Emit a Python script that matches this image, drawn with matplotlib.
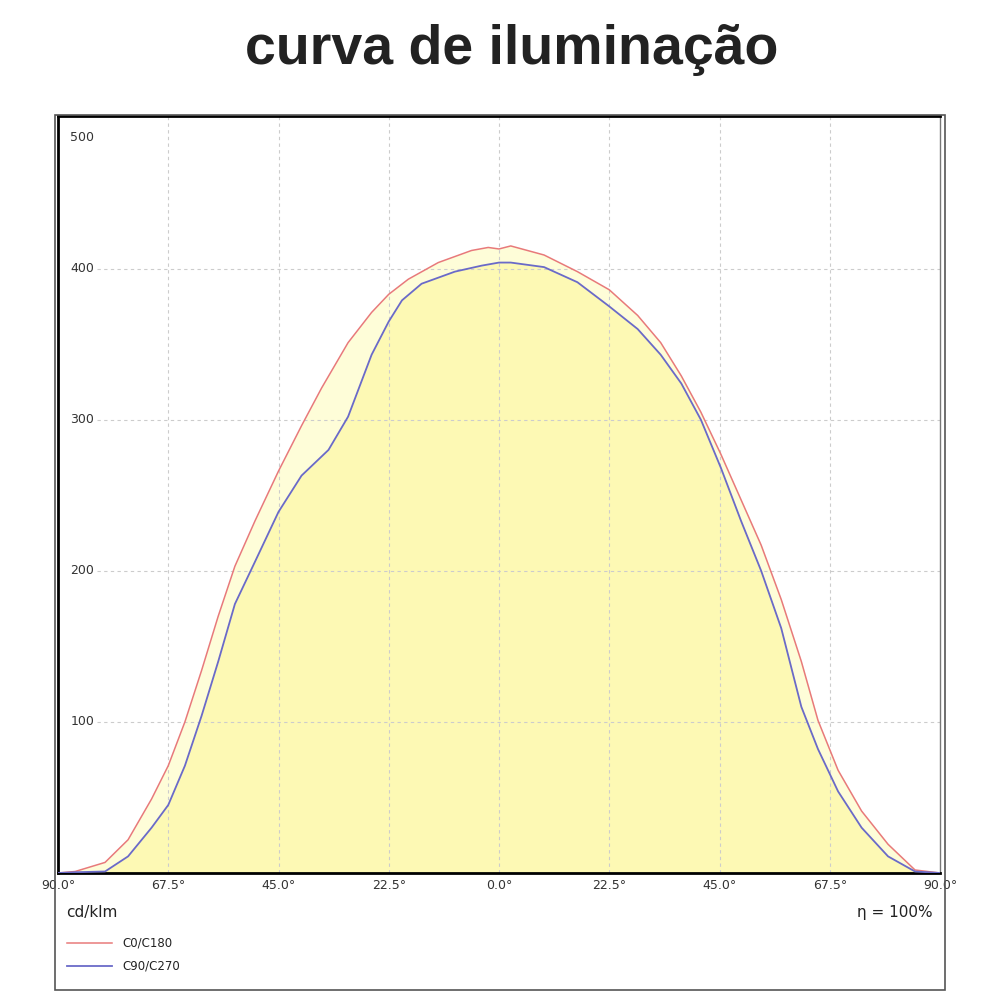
import matplotlib.pyplot as plt
import numpy as np
from matplotlib.patches import Rectangle

# angle (deg, negative = left side) and intensity (cd/klm)
red_ang = [-90, -86.5, -80.4, -75.7, -70.9, -67.5, -64.1, -60.7, -57.3, -53.9, -49.8, -45, -40.3, -36.2,
           -30.8, -26, -22.5, -18.5, -12.4, -5.6, -2.2, 0, 2.4, 9.2, 16, 22.5, 28.3, 33, 37.2, 41.2,
           45.3, 49.4, 53.5, 57.6, 61.7, 65.1, 69.2, 74, 79.4, 84.9, 90]
red_val = [0, 1, 7, 22, 49, 71, 100, 134, 170, 203, 233, 266, 296, 321,
           351, 371, 383, 393, 404, 412, 414, 413, 415, 409, 398, 386, 369, 351, 329, 305,
           277, 247, 217, 181, 140, 101, 68, 41, 19, 2, 0]
blue_ang = [-90, -86.5, -80.4, -75.7, -70.9, -67.5, -64.1, -60.7, -57.3, -53.9, -49.8, -45, -40.3, -34.8,
            -30.8, -26, -22.5, -19.8, -15.8, -9, -3.5, 0, 2.4, 9.2, 16, 22.5, 28.3, 33, 37.2, 41.2,
            45.3, 49.4, 53.5, 57.6, 61.7, 65.1, 69.2, 74, 79.4, 84.9, 90]
blue_val = [0, 0.5, 1, 11, 30, 45, 71, 104, 140, 178, 206, 239, 263, 280,
            302, 343, 365, 379, 390, 398, 402, 404, 404, 401, 391, 375, 360, 343, 324, 300,
            268, 233, 200, 162, 110, 82, 54, 30, 11, 1, 0]
x_ticks = [-90, -67.5, -45, -22.5, 0, 22.5, 45, 67.5, 90]
x_labels = ["90.0°", "67.5°", "45.0°", "22.5°", "0.0°", "22.5°", "45.0°", "67.5°", "90.0°"]
y_ticks = [100, 200, 300, 400]

RED = "#e87a7a"
BLUE = "#6a6ac8"

plt.rcParams["font.family"] = ["DejaVu Sans"]
fig = plt.figure(figsize=(10, 10), dpi=100)
fig.patches.append(Rectangle((0.055, 0.010), 0.890, 0.875, transform=fig.transFigure,
                             fill=False, edgecolor="#555555", linewidth=1.2))
fig.text(0.512, 0.950, "curva de iluminação", ha="center", va="center",
         fontsize=40, fontweight="bold", family="Liberation Sans", color="#222222")

ax = fig.add_axes([0.058, 0.127, 0.882, 0.757])
grid = np.linspace(-90, 90, 721)
r = np.interp(grid, red_ang, red_val)
b = np.interp(grid, blue_ang, blue_val)
ax.fill_between(grid, 0, np.maximum(r, b), color="#fefdd8", linewidth=0)
ax.fill_between(grid, 0, b, color="#fdf9b4", linewidth=0)

# dashed grid, inner lines only
for t in x_ticks[1:-1]:
    ax.axvline(t, color="#cccccc", linestyle=(0, (3, 3)), linewidth=0.8, zorder=2)
for v in y_ticks:
    ax.plot([-82, 90], [v, v], color="#cccccc", linestyle=(0, (3, 3)), linewidth=0.8, zorder=2)

ax.plot(red_ang, red_val, color=RED, linewidth=1.1, zorder=3)
ax.plot(blue_ang, blue_val, color=BLUE, linewidth=1.3, zorder=3)

ax.set_xlim(-90, 90)
ax.set_ylim(0, 501)
ax.set_xticks(x_ticks)
ax.set_xticklabels(x_labels, fontsize=9, color="#333333")
ax.set_yticks([])
ax.tick_params(length=0, pad=4)
for v in y_ticks:
    ax.text(-87.5, v, str(v), fontsize=9, va="center", ha="left", color="#333333")
ax.text(-87.5, 487, "500", fontsize=9, va="center", ha="left", color="#333333")
for s in ["left", "top", "bottom"]:
    ax.spines[s].set_linewidth(2)
    ax.spines[s].set_color("black")
ax.spines["right"].set_linewidth(1)
ax.spines["right"].set_color("#777777")

fig.text(0.066, 0.088, "cd/klm", fontsize=11, va="center", color="#222222")
fig.text(0.933, 0.088, "η = 100%", fontsize=11, va="center", ha="right", color="#222222")
fig.add_artist(plt.Line2D([0.067, 0.112], [0.057, 0.057], color=RED, linewidth=1.1))
fig.add_artist(plt.Line2D([0.067, 0.112], [0.034, 0.034], color=BLUE, linewidth=1.3))
fig.text(0.122, 0.057, "C0/C180", fontsize=8.5, va="center", color="#222222")
fig.text(0.122, 0.034, "C90/C270", fontsize=8.5, va="center", color="#222222")

fig.savefig("out.png", dpi=100, facecolor="white")
